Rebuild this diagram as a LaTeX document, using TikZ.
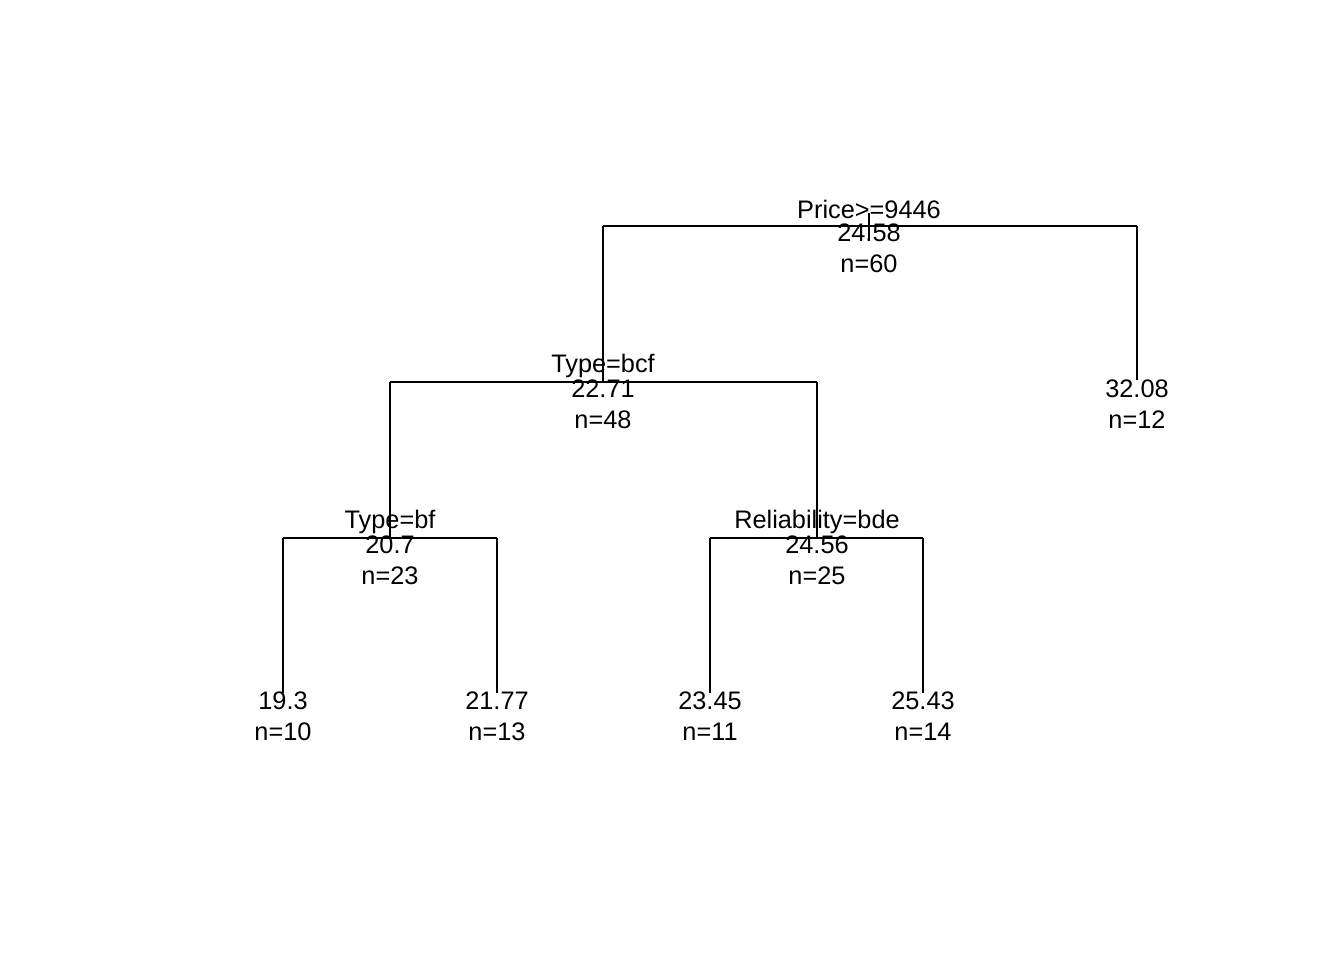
\documentclass[tikz,border=0pt]{standalone}
\usepackage{fontspec}
\setmainfont{Liberation Sans}
\begin{document}
\begin{tikzpicture}[x=0.75pt,y=-0.75pt,
  lbl/.style={inner sep=0pt,anchor=base,font=\fontsize{19}{22}\selectfont},
  br/.style={line width=1.5pt,black}]
\useasboundingbox (0,0) rectangle (1344,960);
% coordinates of node points
\coordinate (rootT) at (869,213);
\coordinate (rootB) at (869,241);
\coordinate (r) at (869,226);
\coordinate (rL) at (603,226);
\coordinate (rR) at (1137,226);
\coordinate (a) at (603,382);
\coordinate (aL) at (390,382);
\coordinate (aR) at (817,382);
\coordinate (leafR) at (1137,380);
\coordinate (b) at (390,538);
\coordinate (bL) at (283,538);
\coordinate (bR) at (497,538);
\coordinate (c) at (817,538);
\coordinate (cL) at (710,538);
\coordinate (cR) at (923,538);
\coordinate (l1) at (283,693);
\coordinate (l2) at (497,693);
\coordinate (l3) at (710,693);
\coordinate (l4) at (923,693);
% branches
\draw[br] (rL) -- (rR);
\draw[br] (rootT) -- (rootB);
\draw[br] (rL) -- (a);
\draw[br] (rR) -- (leafR);
\draw[br] (aL) -- (aR);
\draw[br] (aL) -- (b);
\draw[br] (aR) -- (c);
\draw[br] (bL) -- (bR);
\draw[br] (cL) -- (cR);
\draw[br] (bL) -- (l1);
\draw[br] (bR) -- (l2);
\draw[br] (cL) -- (l3);
\draw[br] (cR) -- (l4);
% labels
\node[lbl] (t0) at (869,218) {Price>=9446};
\node[lbl] (v0) at (869,241) {24.58};
\node[lbl] (n0) at (869,272) {n=60};
\node[lbl] (t1) at (603,372) {Type=bcf};
\node[lbl] (v1) at (603,397) {22.71};
\node[lbl] (n1) at (603,428) {n=48};
\node[lbl] (v2) at (1137,397) {32.08};
\node[lbl] (n2) at (1137,428) {n=12};
\node[lbl] (t3) at (390,528) {Type=bf};
\node[lbl] (v3) at (390,553) {20.7};
\node[lbl] (n3) at (390,584) {n=23};
\node[lbl] (t4) at (817,528) {Reliability=bde};
\node[lbl] (v4) at (817,553) {24.56};
\node[lbl] (n4) at (817,584) {n=25};
\node[lbl] (v5) at (283,709) {19.3};
\node[lbl] (n5) at (283,740) {n=10};
\node[lbl] (v6) at (497,709) {21.77};
\node[lbl] (n6) at (497,740) {n=13};
\node[lbl] (v7) at (710,709) {23.45};
\node[lbl] (n7) at (710,740) {n=11};
\node[lbl] (v8) at (923,709) {25.43};
\node[lbl] (n8) at (923,740) {n=14};
\end{tikzpicture}
\end{document}
